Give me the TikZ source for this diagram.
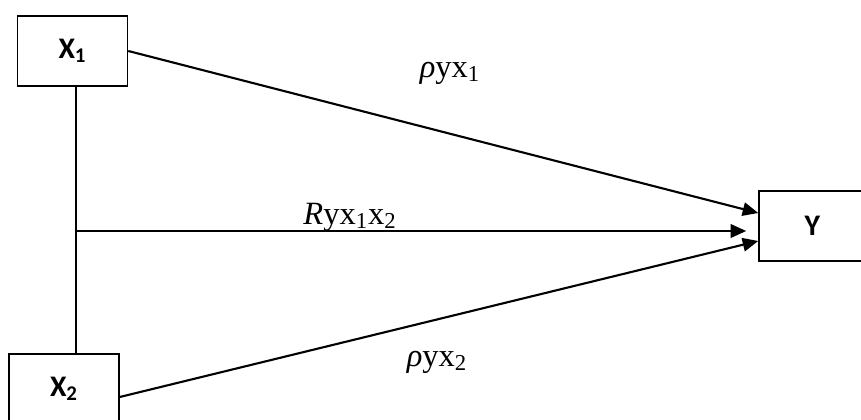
\documentclass[tikz,border=0pt]{standalone}
\usepackage{fontspec}
\setmainfont{Liberation Serif}
\newfontfamily\boxfont{Carlito}
\usepackage{tikz}
\usetikzlibrary{positioning,arrows.meta,calc}

\begin{document}
\begin{tikzpicture}[
  >={Triangle[length=3.1mm, width=2.7mm]},
  var/.style={draw=black, line width=0.9pt, minimum width=2.2cm, minimum height=1.4cm,
              font=\boxfont\fontsize{17}{20}\selectfont\bfseries, inner sep=0pt},
  path/.style={->, line width=1.2pt},
  link/.style={line width=1.2pt},
  coef/.style={font=\fontsize{18.5}{22}\selectfont, inner sep=0pt},
]
\useasboundingbox (0,0) rectangle (17.22,8.4);
% -- variables
\node[var] (x1) at (1.45,7.38) {X\textsubscript{1}};
\node[var] (x2) at (1.28,0.62) {X\textsubscript{2}};
\node[var, minimum width=2.14cm] (y) at (16.25,3.88) {Y};
\coordinate (jn) at (1.52,3.78);
% -- correlation between X1 and X2
\draw[link] (x1.south -| jn) -- (x2.north -| jn);
% -- paths
\draw[path] (x1.east) -- ([yshift=0.26cm]y.west);
\draw[path, shorten >=0.24cm] (jn) -- (jn -| y.west);
\draw[path] ([yshift=-0.16cm]x2.east) -- ([yshift=-0.3cm]y.west);
% -- coefficients
\node[coef] (p1) at (9.0,6.94) {\textit{ρ}yx\textsubscript{1}};
\node[coef] (r12) at (7.0,4.06) {\textit{R}yx\textsubscript{1}x\textsubscript{2}};
\node[coef] (p2) at (8.74,1.16) {\textit{ρ}yx\textsubscript{2}};
\end{tikzpicture}
\end{document}
